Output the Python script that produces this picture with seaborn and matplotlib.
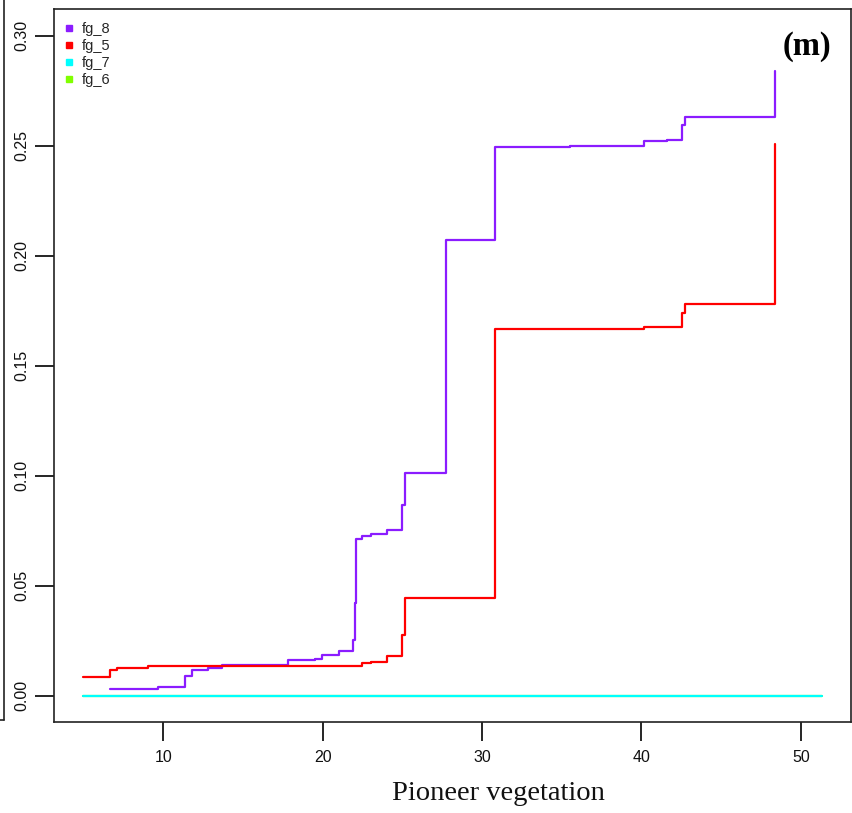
import numpy as np
import pandas as pd
import matplotlib
matplotlib.use("Agg")
import matplotlib.pyplot as plt
from matplotlib.lines import Line2D
import seaborn as sns

# ---- data ----
fg8_x = [6.66, 9.69, 11.34, 11.80, 12.78, 13.72, 17.84, 19.55, 19.99, 21.05, 21.93,
         22.04, 22.10, 22.50, 23.06, 24.03, 24.97, 25.19, 27.72, 30.82, 35.52, 40.16,
         41.58, 42.56, 42.73, 48.37]
fg8_y = [0.0029, 0.0040, 0.0091, 0.0118, 0.0126, 0.0139, 0.0161, 0.0168, 0.0185, 0.0203, 0.0255,
         0.0421, 0.0714, 0.0727, 0.0735, 0.0755, 0.0867, 0.1014, 0.2071, 0.2492, 0.2499, 0.2520,
         0.2527, 0.2595, 0.2632, 0.2840]
fg5_x = [5.00, 6.66, 7.10, 9.04, 22.48, 23.06, 24.03, 24.97, 25.17, 30.82, 40.16, 42.56, 42.73, 48.37]
fg5_y = [0.0083, 0.0118, 0.0126, 0.0133, 0.0146, 0.0154, 0.0182, 0.0277, 0.0444, 0.1668, 0.1674,
         0.1738, 0.1780, 0.2508]
fg7_x = [5.00, 51.30]
fg7_y = [0.0, 0.0]
fg6_x = [5.00, 51.30]
fg6_y = [0.0, 0.0]

groups = ["fg_8", "fg_5", "fg_7", "fg_6"]
colors = {"fg_8": "#8B1CFF", "fg_5": "#FF0000", "fg_7": "#00FFFF", "fg_6": "#80FF00"}
x_ticks = [10, 20, 30, 40, 50]
y_ticks = [0.00, 0.05, 0.10, 0.15, 0.20, 0.25, 0.30]
y_ticklabels = ["0.00", "0.05", "0.10", "0.15", "0.20", "0.25", "0.30"]

df = pd.concat([
    pd.DataFrame({"x": fg8_x, "y": fg8_y, "g": "fg_8"}),
    pd.DataFrame({"x": fg5_x, "y": fg5_y, "g": "fg_5"}),
    pd.DataFrame({"x": fg7_x, "y": fg7_y, "g": "fg_7"}),
    pd.DataFrame({"x": fg6_x, "y": fg6_y, "g": "fg_6"}),
], ignore_index=True)

sns.set_style("white")
plt.rcParams["font.family"] = ["Liberation Sans", "DejaVu Sans"]

fig = plt.figure(figsize=(8.52, 8.13), dpi=100)
ax = fig.add_axes([54 / 852, 1 - 722 / 813, 797 / 852, (722 - 9.3) / 813])

for g in ["fg_6", "fg_8", "fg_5", "fg_7"]:
    sub = df[df["g"] == g]
    sns.lineplot(data=sub, x="x", y="y", color=colors[g], drawstyle="steps-post",
                 estimator=None, sort=True, lw=1.6, ax=ax, legend=False)

ax.set_xlim(3.15, 53.15)
ax.set_ylim(-0.012, 0.312)
ax.set_xticks(x_ticks)
ax.set_xticklabels([str(t) for t in x_ticks], fontsize=11.5)
ax.set_yticks(y_ticks)
ax.set_yticklabels(y_ticklabels, fontsize=11.5, rotation=90, va="center")
ax.tick_params(axis="both", direction="out", length=14, width=1.2, color="black",
               labelcolor="#111111", pad=6, bottom=True, left=True)
ax.tick_params(axis="y", pad=4)
for s in ax.spines.values():
    s.set_visible(True)
    s.set_color("#222222")
    s.set_linewidth(1.2)
ax.set_xlabel("")
ax.set_ylabel("")

handles = [Line2D([], [], ls="none", marker="s", markersize=4, color=colors[g]) for g in groups]
ax.legend(handles, groups, loc="upper left", bbox_to_anchor=(0.0, 0.997), frameon=False,
          fontsize=10.5, handlelength=0.6, handletextpad=0.6, labelspacing=0.22,
          borderaxespad=0.3)

fig.text(498 / 852, 1 - 793 / 813, "Pioneer vegetation", ha="center", va="center",
         fontsize=20.5, family=["Liberation Serif", "DejaVu Serif"], color="#111111")
fig.text(807 / 852, 1 - 47 / 813, "(m)", ha="center", va="center", fontsize=23.5,
         fontweight="bold", family=["Liberation Serif", "DejaVu Serif"], color="black")

# border of the neighbouring panel at the far left edge
fig.add_artist(Line2D([4 / 852, 4 / 852], [1.0, 1 - 720 / 813], color="#222222", lw=1.2,
                      transform=fig.transFigure))
fig.add_artist(Line2D([0, 4 / 852], [1 - 720 / 813, 1 - 720 / 813], color="#222222", lw=1.2,
                      transform=fig.transFigure))

fig.savefig("out.png", dpi=100)
